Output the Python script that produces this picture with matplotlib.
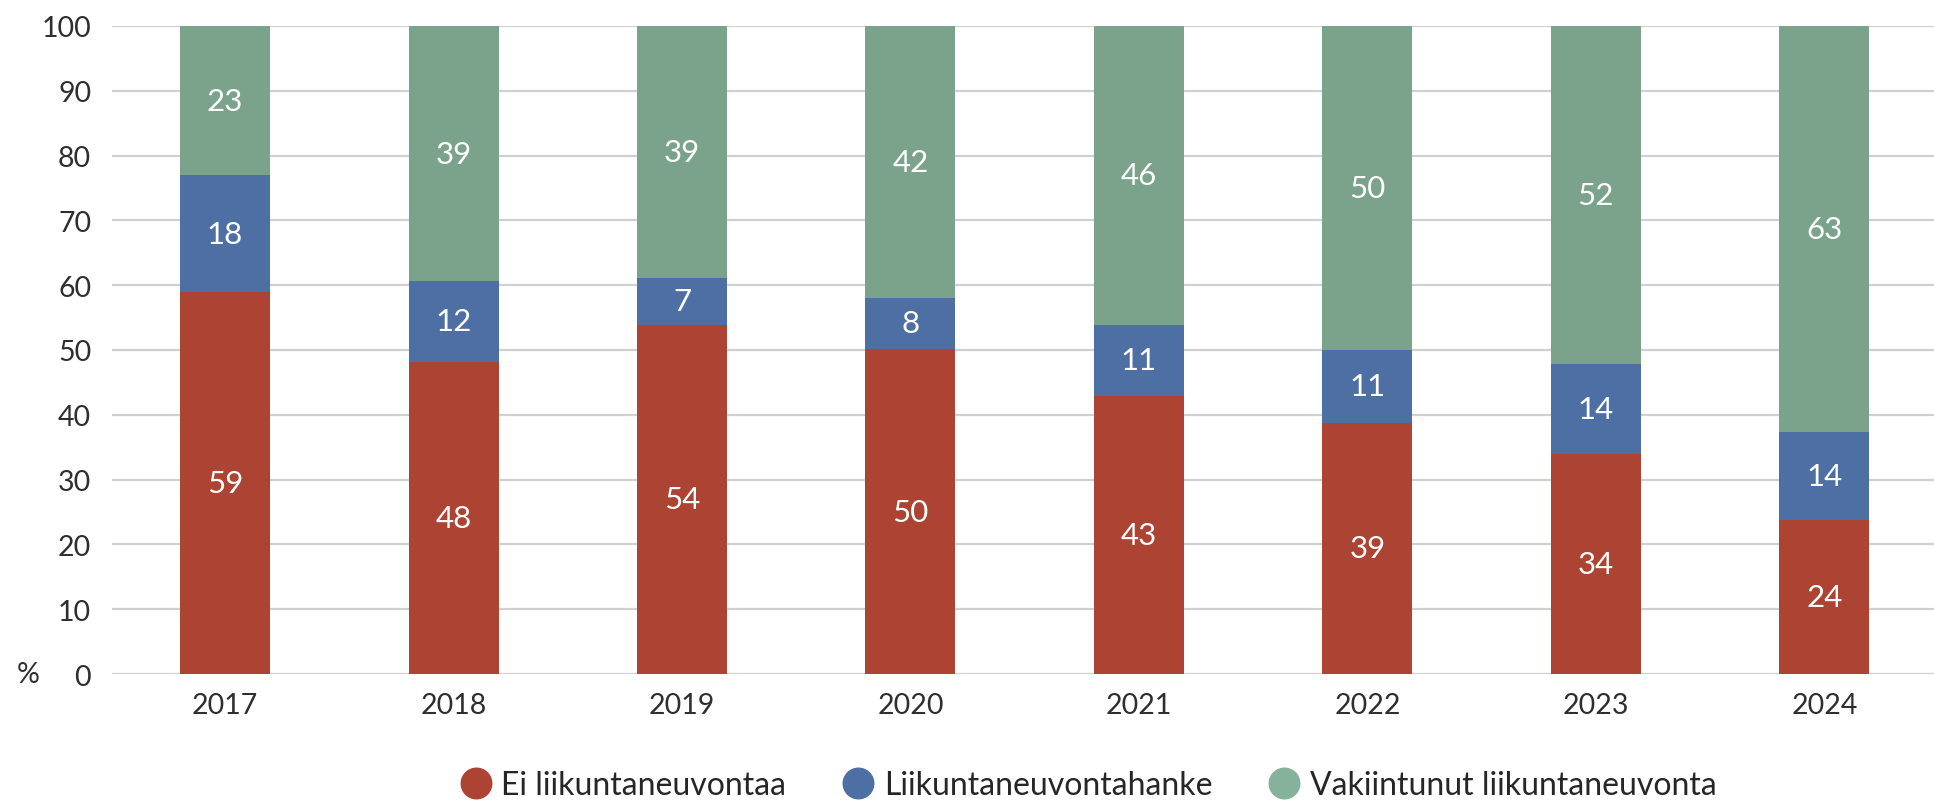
import matplotlib
matplotlib.use("Agg")
import matplotlib.pyplot as plt
from matplotlib.lines import Line2D
import numpy as np

years = ["2017", "2018", "2019", "2020", "2021", "2022", "2023", "2024"]
ei = [58.9, 48.2, 53.9, 50.1, 42.9, 38.8, 33.9, 23.8]
hanke = [18.1, 12.4, 7.2, 8.0, 11.0, 11.2, 14.0, 13.6]
vakiintunut = [23.0, 39.4, 38.9, 41.9, 46.1, 50.0, 52.1, 62.6]
series_names = ["Ei liikuntaneuvontaa", "Liikuntaneuvontahanke", "Vakiintunut liikuntaneuvonta"]
colors = ["#AD4433", "#4E6FA4", "#7BA38C"]
legend_colors = ["#AD4433", "#4E6FA4", "#86B29C"]

plt.rcParams['font.family'] = ['Lato', 'DejaVu Sans']

fig = plt.figure(figsize=(19.34, 8.04), dpi=100)
ax = fig.add_axes([112/1934, 1-675/804, 1-112/1934, (675-27)/804])

x = np.arange(len(years))
w = 0.394
bottom = np.zeros(len(years))
for vals, col in zip([ei, hanke, vakiintunut], colors):
    vals = np.array(vals)
    ax.bar(x, vals, w, bottom=bottom, color=col, linewidth=0, zorder=3)
    for xi, b, v in zip(x, bottom, vals):
        ax.text(xi, b + v/2, f"{round(v):d}", ha="center", va="center",
                color="white", fontsize=22.5, zorder=4)
    bottom += vals

ax.set_xlim(-0.495, 7.48)
ax.set_ylim(0, 100)
ax.set_yticks(np.arange(0, 101, 10))
ax.set_xticks(x)
ax.set_xticklabels(years)
ax.yaxis.grid(True, color="#D0D0D0", linewidth=1.6, zorder=0)
ax.set_axisbelow(True)
for s in ax.spines.values():
    s.set_visible(False)
ax.tick_params(axis="both", length=0, labelsize=20.5, labelcolor="#2E2E2E")
ax.tick_params(axis="y", pad=15)
ax.tick_params(axis="x", pad=13)

fig.text(28/1934, 1-675/804, "%", ha="center", va="center", fontsize=20.5, color="#2E2E2E")

handles = [Line2D([0], [0], marker="o", linestyle="none", markersize=22,
                  markerfacecolor=c, markeredgecolor=c) for c in legend_colors]
fig.legend(handles, series_names, loc="center", bbox_to_anchor=(0.5626, 0.0224),
           ncol=3, frameon=False, fontsize=23, handlelength=1.0, handletextpad=0.3,
           columnspacing=1.75, borderpad=0, labelcolor="#262626")

fig.savefig("out.png", dpi=100)
